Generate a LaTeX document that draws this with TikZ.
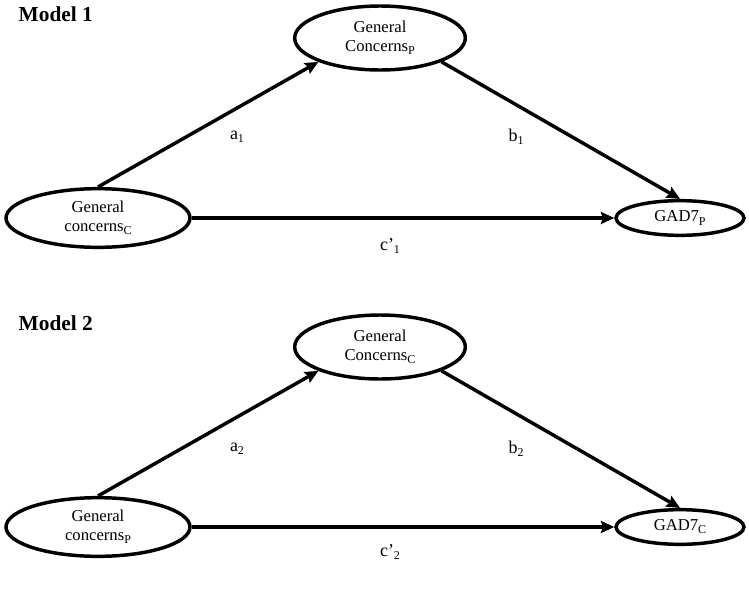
\documentclass[tikz,border=0pt]{standalone}
\usepackage{fontspec}
\setmainfont{Liberation Serif}
\usetikzlibrary{shapes.geometric,arrows.meta}
\newcommand{\lowsub}[1]{\raisebox{-0.4ex}{\fontsize{9}{9}\selectfont #1}}
\tikzset{
  var/.style={draw, ellipse, line width=2.6pt, inner sep=0pt, align=center, font=\fontsize{12.5}{14}\selectfont},
  mid/.style={var, minimum width=128pt, minimum height=48pt},
  pred/.style={var, minimum width=138pt, minimum height=44pt},
  outc/.style={var, minimum width=96pt, minimum height=26pt},
  path/.style={line width=2.6pt, -{Stealth[length=10pt,width=9pt,inset=1.5pt]}},
  coef/.style={font=\fontsize{13.5}{15}\selectfont},
  title/.style={font=\fontsize{16}{18}\selectfont\bfseries, anchor=west}
}
\begin{document}
\begin{tikzpicture}[x=0.75pt,y=-0.75pt]
            \useasboundingbox (0,0) rectangle (749,589);
            % Model 1
            \node[title] (t1) at (14,14) {Model 1};
            \node[mid] (m1) at (380,38) {General\\Concerns\lowsub{P}};
            \node[pred] (x1) at (98,218) {General\\concerns\lowsub{C}};
            \node[outc] (y1) at (680,218) {GAD7\lowsub{P}};
            \draw[path] (x1.north) -- (m1.south west);
            \draw[path] (m1.south east) -- (y1.north);
            \draw[path] (x1.east) -- (y1.west);
            \node[coef] (a1) at (237,137) {a\lowsub{1}};
            \node[coef] (b1) at (516,137) {b\lowsub{1}};
            \node[coef] (c1) at (390,246) {c’\lowsub{1}};

            % Model 2
            \node[title] (t2) at (14,323) {Model 2};
            \node[mid] (m2) at (380,347) {General\\Concerns\lowsub{C}};
            \node[pred] (x2) at (98,527) {General\\concerns\lowsub{P}};
            \node[outc] (y2) at (680,527) {GAD7\lowsub{C}};
            \draw[path] (x2.north) -- (m2.south west);
            \draw[path] (m2.south east) -- (y2.north);
            \draw[path] (x2.east) -- (y2.west);
            \node[coef] (a2) at (237,449) {a\lowsub{2}};
            \node[coef] (b2) at (516,449) {b\lowsub{2}};
            \node[coef] (c2) at (390,552) {c’\lowsub{2}};
        \end{tikzpicture}
\end{document}
